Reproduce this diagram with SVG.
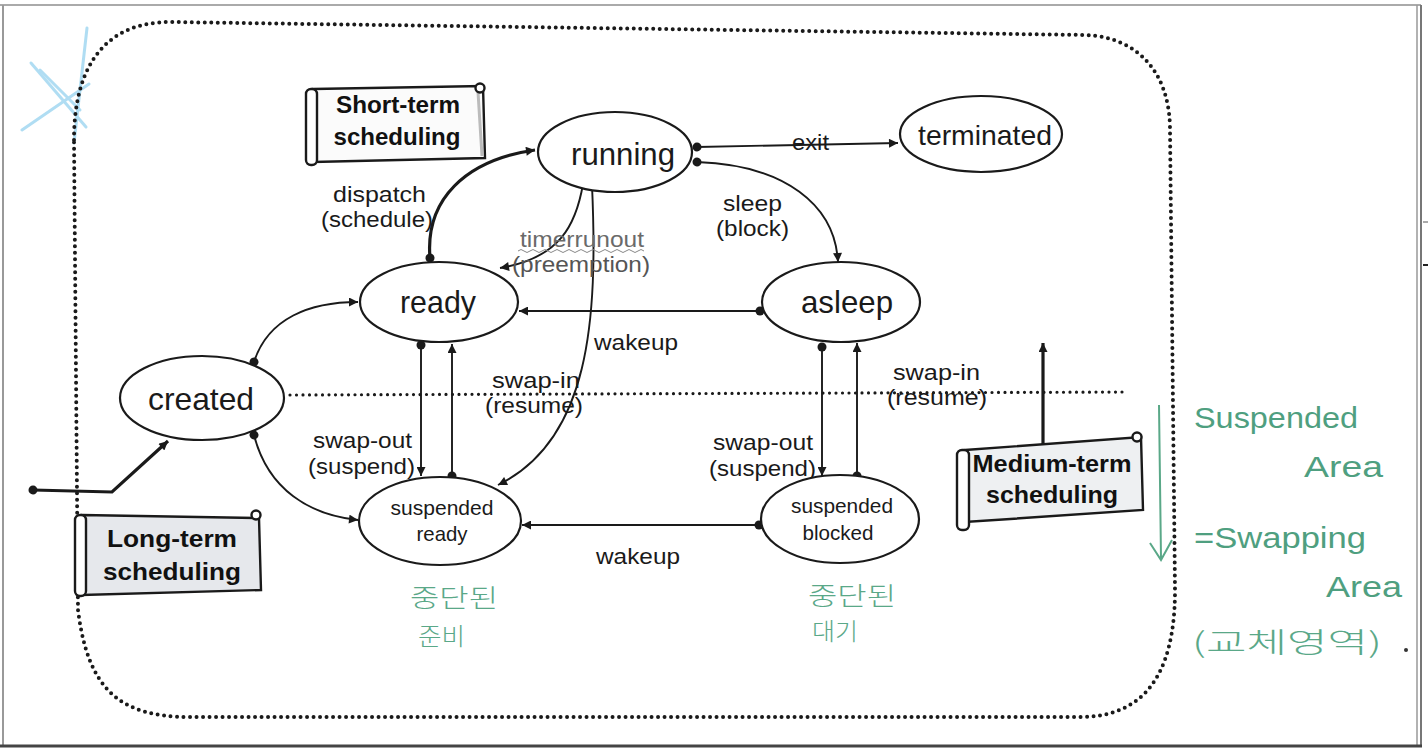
<svg xmlns="http://www.w3.org/2000/svg" width="1428" height="752" viewBox="0 0 1428 752">
<defs>
<style>
.lbl{font-family:"Liberation Sans",Arial,sans-serif;font-size:22px;fill:#1a1a1a;}
.node{font-family:"Liberation Sans",Arial,sans-serif;font-size:32px;fill:#1a1a1a;text-anchor:middle;}
.small{font-family:"Liberation Sans",Arial,sans-serif;font-size:21px;fill:#1a1a1a;text-anchor:middle;}
.scr{font-family:"Liberation Sans",Arial,sans-serif;font-size:24px;font-weight:bold;fill:#111;text-anchor:middle;}
.ell{fill:#fff;stroke:#1a1a1a;stroke-width:2.2;}
.con{fill:none;stroke:#1a1a1a;stroke-width:1.9;marker-start:url(#dot);marker-end:url(#arr);}
.thick{stroke-width:3.2;}
.dotted{fill:none;stroke:#1a1a1a;stroke-linecap:round;stroke-dasharray:0 6.5;stroke-width:4;}
.scroll{stroke:#1a1a1a;stroke-width:2.4;}
.green{font-family:"Liberation Sans","Noto Sans CJK KR",sans-serif;fill:#4f9f80;font-weight:300;}
.kr{font-family:"Noto Sans CJK KR",sans-serif;fill:#5aa888;font-weight:300;}
</style>
<marker id="arr" viewBox="0 0 10 10" refX="10" refY="5" markerWidth="11" markerHeight="9" orient="auto" markerUnits="userSpaceOnUse">
<path d="M0,0 L10,5 L0,10 Z" fill="#1a1a1a"/>
</marker>
<marker id="dot" viewBox="0 0 10 10" refX="5" refY="5" markerWidth="10" markerHeight="10" orient="auto" markerUnits="userSpaceOnUse">
<circle cx="5" cy="5" r="4.5" fill="#1a1a1a"/>
</marker>
</defs>
<rect x="0" y="0" width="1428" height="752" fill="#fff"/>
<!-- screenshot frame -->
<g id="frame" fill="none">
<line x1="0" y1="5" x2="1421" y2="5" stroke="#aaa" stroke-width="2"/>
<line x1="3" y1="5" x2="3" y2="745" stroke="#999" stroke-width="2"/>
<line x1="1417" y1="5" x2="1417" y2="745" stroke="#999" stroke-width="1.5"/>
<line x1="1421" y1="5" x2="1421" y2="745" stroke="#777" stroke-width="2"/>
<line x1="0" y1="746" x2="1422" y2="746" stroke="#444" stroke-width="3"/>
<line x1="1423" y1="222" x2="1428" y2="222" stroke="#555" stroke-width="1"/>
<line x1="1423" y1="265" x2="1428" y2="265" stroke="#222" stroke-width="2"/>
</g>
<!-- blue scribble -->
<g id="scribble" fill="none" stroke="#8fd0ee" stroke-width="3" stroke-linecap="round" opacity="0.7">
<path d="M87,28 L74,143"/>
<path d="M31,63 L86,127"/>
<path d="M22,130 L89,84"/>
<path d="M40,70 L80,110"/>
</g>
<!-- dotted outer boundary -->
<path id="boundary" class="dotted" d="M74,140 C74,60 110,22 170,22 L1085,35 C1140,37 1170,75 1170,130 L1175,590 C1175,680 1140,717 1080,717 L190,717 C120,717 88,690 78,610 Z"/>
<!-- dotted divider -->
<path id="divider" class="dotted" d="M290,395 L1128,392" style="stroke-width:3.2"/>
<!-- connectors -->
<g id="connectors">
<path class="con" d="M697,147 L898,143"/>
<path class="con" d="M697,162 C785,165 835,205 838,262"/>
<path class="con thick" d="M430,258 C425,200 465,160 535,150"/>
<path class="con" d="M583,184 C576,225 560,258 500,268"/>
<path class="con" d="M592,185 C598,320 590,440 498,485"/>
<path class="con" d="M760,311 L519,311"/>
<path class="con" d="M421,345 L421,476"/>
<path class="con" d="M452,476 L452,344"/>
<path class="con" d="M822,347 L822,476"/>
<path class="con" d="M857,476 L857,343"/>
<path class="con" d="M759,525 L522,525"/>
<path class="con" d="M254,362 C268,318 310,302 358,302"/>
<path class="con" d="M254,435 C268,490 310,515 358,520"/>
<path class="con thick" d="M33,490 L112,492 L168,441"/>
<path class="con thick" d="M1043,445 L1043,343" style="marker-start:none"/>
</g>
<!-- connector labels -->
<g id="labels">
<text class="lbl" x="792" y="150" textLength="37" lengthAdjust="spacingAndGlyphs">exit</text>
<text class="lbl" x="723" y="211" textLength="59" lengthAdjust="spacingAndGlyphs">sleep</text>
<text class="lbl" x="716" y="236" textLength="73" lengthAdjust="spacingAndGlyphs">(block)</text>
<text class="lbl" x="333" y="202" textLength="93" lengthAdjust="spacingAndGlyphs">dispatch</text>
<text class="lbl" x="321" y="227" textLength="112" lengthAdjust="spacingAndGlyphs">(schedule)</text>
<text class="lbl" x="520" y="247" textLength="124" lengthAdjust="spacingAndGlyphs" style="fill:#6a6a6a">timerrunout</text>
<path d="M518,251 q3,-3 6,0 t6,0 t6,0 t6,0 t6,0 t6,0 t6,0 t6,0 t6,0 t6,0 t6,0 t6,0 t6,0 t6,0 t6,0 t6,0 t6,0 t6,0 t6,0 t6,0 t6,0" fill="none" stroke="#888" stroke-width="1"/>
<text class="lbl" x="512" y="272" textLength="138" lengthAdjust="spacingAndGlyphs" style="fill:#555">(preemption)</text>
<text class="lbl" x="594" y="350" textLength="84" lengthAdjust="spacingAndGlyphs">wakeup</text>
<text class="lbl" x="492" y="388" textLength="88" lengthAdjust="spacingAndGlyphs">swap-in</text>
<text class="lbl" x="485" y="413" textLength="98" lengthAdjust="spacingAndGlyphs">(resume)</text>
<text class="lbl" x="313" y="448" textLength="99" lengthAdjust="spacingAndGlyphs">swap-out</text>
<text class="lbl" x="308" y="474" textLength="107" lengthAdjust="spacingAndGlyphs">(suspend)</text>
<text class="lbl" x="713" y="450" textLength="100" lengthAdjust="spacingAndGlyphs">swap-out</text>
<text class="lbl" x="709" y="476" textLength="107" lengthAdjust="spacingAndGlyphs">(suspend)</text>
<text class="lbl" x="893" y="380" textLength="87" lengthAdjust="spacingAndGlyphs">swap-in</text>
<text class="lbl" x="887" y="405" textLength="100" lengthAdjust="spacingAndGlyphs">(resume)</text>
<text class="lbl" x="596" y="564" textLength="84" lengthAdjust="spacingAndGlyphs">wakeup</text>
</g>
<!-- nodes -->
<g id="running"><ellipse class="ell" cx="615" cy="152" rx="77" ry="40"/><text class="node" x="623" y="165" textLength="104" lengthAdjust="spacingAndGlyphs">running</text></g>
<g id="terminated"><ellipse class="ell" cx="981" cy="134" rx="81" ry="38"/><text class="node" x="985" y="145" style="font-size:28px" textLength="134" lengthAdjust="spacingAndGlyphs">terminated</text></g>
<g id="ready"><ellipse class="ell" cx="439" cy="302" rx="79" ry="40"/><text class="node" x="438" y="313" textLength="76" lengthAdjust="spacingAndGlyphs">ready</text></g>
<g id="asleep"><ellipse class="ell" cx="841" cy="302" rx="79" ry="40"/><text class="node" x="847" y="313" textLength="92" lengthAdjust="spacingAndGlyphs">asleep</text></g>
<g id="created"><ellipse class="ell" cx="202" cy="398" rx="82" ry="42"/><text class="node" x="201" y="410" textLength="106" lengthAdjust="spacingAndGlyphs">created</text></g>
<g id="suspended-ready"><ellipse class="ell" cx="440" cy="521" rx="81" ry="44"/><text class="small" x="442" y="515" textLength="103" lengthAdjust="spacingAndGlyphs">suspended</text><text class="small" x="442" y="541" textLength="51" lengthAdjust="spacingAndGlyphs">ready</text></g>
<g id="suspended-blocked"><ellipse class="ell" cx="840" cy="519" rx="79" ry="44"/><text class="small" x="842" y="513" textLength="102" lengthAdjust="spacingAndGlyphs">suspended</text><text class="small" x="838" y="540" textLength="71" lengthAdjust="spacingAndGlyphs">blocked</text></g>
<!-- scrolls -->
<g id="short-term">
<path class="scroll" d="M313,89 L483,86 L485,158 L313,162 Z" fill="#fbfbfb"/>
<path d="M478,92 L482,156" stroke="#bbb" stroke-width="3"/>
<rect class="scroll" x="306" y="89" width="11" height="76" rx="5" fill="#fff"/>
<circle class="scroll" cx="480" cy="88" r="4.5" fill="#fff" stroke-width="1.8"/>
<text class="scr" x="398" y="113" textLength="124" lengthAdjust="spacingAndGlyphs">Short-term</text>
<text class="scr" x="397" y="145" textLength="127" lengthAdjust="spacingAndGlyphs">scheduling</text>
</g>
<g id="long-term">
<path class="scroll" d="M82,515 L259,518 L261,590 L82,595 Z" fill="#e6e8ec"/>
<rect class="scroll" x="75" y="515" width="11" height="81" rx="5" fill="#fff"/>
<circle class="scroll" cx="256" cy="515" r="4.5" fill="#fff" stroke-width="1.8"/>
<text class="scr" x="172" y="547" textLength="130" lengthAdjust="spacingAndGlyphs">Long-term</text>
<text class="scr" x="172" y="580" textLength="138" lengthAdjust="spacingAndGlyphs">scheduling</text>
</g>
<g id="medium-term">
<path class="scroll" d="M965,450 L1141,437 L1143,510 L965,522 Z" fill="#eef0f2"/>
<rect class="scroll" x="957" y="450" width="12" height="80" rx="5" fill="#fff"/>
<circle class="scroll" cx="1137" cy="437" r="4.5" fill="#fff" stroke-width="1.8"/>
<text class="scr" x="1052" y="472" textLength="159" lengthAdjust="spacingAndGlyphs">Medium-term</text>
<text class="scr" x="1052" y="503" textLength="132" lengthAdjust="spacingAndGlyphs">scheduling</text>
</g>
<!-- handwritten notes -->
<g id="notes">
<text class="kr" x="410" y="607" style="font-size:25px" textLength="88" lengthAdjust="spacingAndGlyphs">중단된</text>
<text class="kr" x="418" y="645" style="font-size:24px" textLength="47" lengthAdjust="spacingAndGlyphs">준비</text>
<text class="kr" x="808" y="605" style="font-size:25px" textLength="88" lengthAdjust="spacingAndGlyphs">중단된</text>
<text class="kr" x="812" y="640" style="font-size:24px" textLength="46" lengthAdjust="spacingAndGlyphs">대기</text>
<path d="M1159,405 L1161,558 M1150,543 L1161,560 L1172,540" fill="none" stroke="#5aa888" stroke-width="2"/>
<text class="green" x="1194" y="428" style="font-size:30px" textLength="164" lengthAdjust="spacingAndGlyphs">Suspended</text>
<text class="green" x="1304" y="477" style="font-size:30px" textLength="79" lengthAdjust="spacingAndGlyphs">Area</text>
<text class="green" x="1194" y="548" style="font-size:30px" textLength="172" lengthAdjust="spacingAndGlyphs">=Swapping</text>
<text class="green" x="1326" y="597" style="font-size:30px" textLength="76" lengthAdjust="spacingAndGlyphs">Area</text>
<text class="kr" x="1192" y="653" style="font-size:28px" textLength="190" lengthAdjust="spacingAndGlyphs">(교체영역)</text>
<circle cx="1406" cy="650" r="2" fill="#333"/>
</g>
</svg>
